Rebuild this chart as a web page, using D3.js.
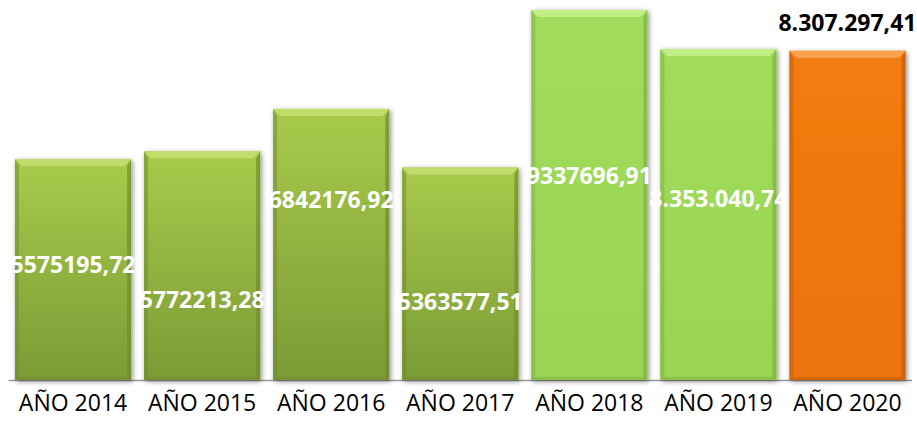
<!DOCTYPE html>
<html>
<head>
<meta charset="utf-8">
<script src="https://cdn.jsdelivr.net/npm/d3@7"></script>
<style>
  body { margin: 0; background: #fff; }
  svg { display: block; }
</style>
</head>
<body>
<svg id="chart"></svg>
<script>
// data
const years = ['AÑO 2014', 'AÑO 2015', 'AÑO 2016', 'AÑO 2017', 'AÑO 2018', 'AÑO 2019', 'AÑO 2020'];
const values = [5575195.72, 5772213.28, 6842176.92, 5363577.51, 9337696.91, 8353040.74, 8307297.41];
const valueLabels = ['5575195,72', '5772213,28', '6842176,92', '5363577,51', '9337696,91', '8.353.040,74', '8.307.297,41'];
// where each label sits, on the value axis (labels were dragged by hand in the original)
const labelAt = [2900000, 2020000, 4540000, 1970000, 5150000, 4570000, null];
const barStyle = ['olive', 'olive', 'olive', 'olive', 'lime', 'lime', 'orange'];

const width = 917, height = 427;
const margin = { top: 10, bottom: 47, left: 8, right: 5 };
const baseY = height - margin.bottom;

const svg = d3.select('#chart')
    .attr('width', width)
    .attr('height', height);

const x = d3.scaleBand()
    .domain(years)
    .range([margin.left + 0.5, width - margin.right])
    .paddingInner(0.1)
    .paddingOuter(0.05);

const y = d3.scaleLinear()
    .domain([0, d3.max(values)])
    .range([baseY, margin.top]);

const defs = svg.append('defs');

// colours for each bar style: body top, body bottom, bevel top, side shade
const palette = {
  olive:  { top: '#a8cb4c', bottom: '#7b9b35', bevel: '#c3e070', side: '#6f8c2c' },
  lime:   { top: '#a2dc5c', bottom: '#9ad455', bevel: '#c4ef8a', side: '#7fb044' },
  orange: { top: '#f27c12', bottom: '#ec730e', bevel: '#f9a758', side: '#c65d08' }
};

Object.entries(palette).forEach(([k, c]) => {
  const g = defs.append('linearGradient')
      .attr('id', 'grad-' + k)
      .attr('x1', 0).attr('y1', 0).attr('x2', 0).attr('y2', 1);
  g.append('stop').attr('offset', '0%').attr('stop-color', c.top);
  g.append('stop').attr('offset', '100%').attr('stop-color', c.bottom);
});

const shadow = defs.append('filter')
    .attr('id', 'shadow')
    .attr('x', '-10%').attr('y', '-10%')
    .attr('width', '120%').attr('height', '120%');
shadow.append('feDropShadow')
    .attr('dx', 1.5).attr('dy', 1.5)
    .attr('stdDeviation', 2.5)
    .attr('flood-color', '#000')
    .attr('flood-opacity', 0.45);

// axis line
const axisG = svg.append('g')
    .attr('transform', `translate(0,${baseY})`);
axisG.call(d3.axisBottom(x).tickSize(0).tickPadding(15))
    .call(g => g.select('.domain')
        .attr('stroke', '#9a9a9a')
        .attr('stroke-width', 1.5)
        .attr('d', `M${x.range()[0]},0.5H${x.range()[1]}`))
    .call(g => g.selectAll('text')
        .attr('fill', '#000')
        .style('font-family', '"Open Sans", sans-serif')
        .style('font-size', '23px'));

// bars
const bev = 7, side = 4;
const data = years.map((yr, i) => ({ yr, v: values[i], label: valueLabels[i], at: labelAt[i], s: barStyle[i] }));

const bars = svg.append('g').selectAll('g.bar')
    .data(data)
  .join('g')
    .attr('class', 'bar');

bars.append('rect')
    .attr('x', d => x(d.yr))
    .attr('y', d => y(d.v))
    .attr('width', x.bandwidth())
    .attr('height', d => baseY - y(d.v))
    .attr('fill', d => `url(#grad-${d.s})`)
    .attr('filter', 'url(#shadow)');

// top bevel
bars.append('path')
    .attr('d', d => {
      const x0 = x(d.yr), x1 = x0 + x.bandwidth(), t = y(d.v);
      return `M${x0},${t}H${x1}L${x1 - bev},${t + bev}H${x0 + bev}Z`;
    })
    .attr('fill', d => palette[d.s].bevel)
    .attr('opacity', 0.9);

// side shading
bars.append('path')
    .attr('d', d => {
      const x0 = x(d.yr), t = y(d.v);
      return `M${x0},${t}L${x0 + side},${t + bev}V${baseY - 2}L${x0},${baseY}Z`;
    })
    .attr('fill', d => palette[d.s].side)
    .attr('opacity', 0.55);

bars.append('path')
    .attr('d', d => {
      const x1 = x(d.yr) + x.bandwidth(), t = y(d.v);
      return `M${x1},${t}L${x1 - side},${t + bev}V${baseY - 2}L${x1},${baseY}Z`;
    })
    .attr('fill', d => palette[d.s].side)
    .attr('opacity', 0.7);

// bottom shading
bars.append('path')
    .attr('d', d => {
      const x0 = x(d.yr), x1 = x0 + x.bandwidth();
      return `M${x0},${baseY}L${x0 + side},${baseY - 3}H${x1 - side}L${x1},${baseY}Z`;
    })
    .attr('fill', d => palette[d.s].side)
    .attr('opacity', 0.6);

// value labels
bars.append('text')
    .attr('x', d => x(d.yr) + x.bandwidth() / 2)
    .attr('y', d => d.at == null ? y(d.v) - 20 : y(d.at))
    .attr('dy', d => d.at == null ? 0 : '0.36em')
    .attr('text-anchor', 'middle')
    .attr('fill', d => d.at == null ? '#000' : '#fff')
    .style('font-family', '"Open Sans", sans-serif')
    .style('font-weight', 700)
    .style('font-size', '23px')
    .text(d => d.label);
</script>
</body>
</html>
